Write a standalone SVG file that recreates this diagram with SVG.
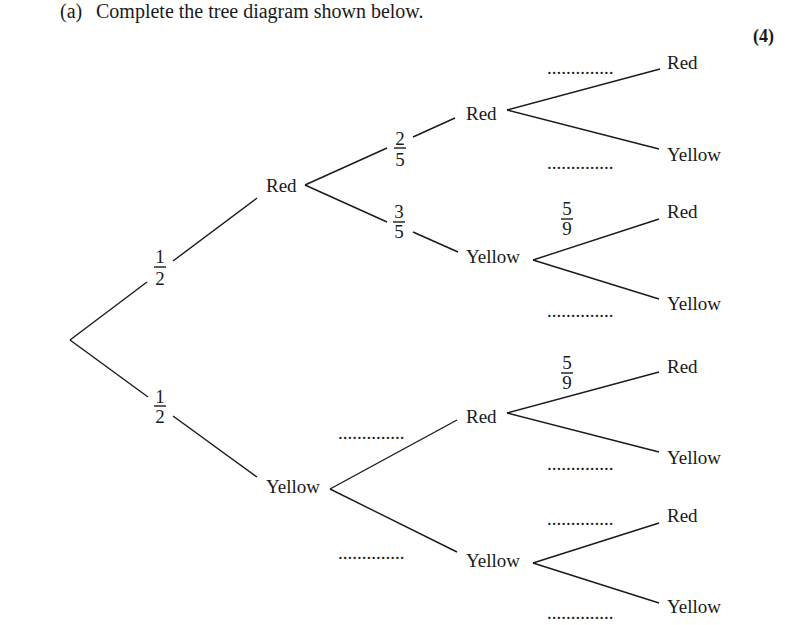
<svg xmlns="http://www.w3.org/2000/svg" width="800" height="625" viewBox="0 0 800 625">
<style>
text{font-family:"Liberation Serif","Times New Roman",serif;font-size:19px;fill:#1a1a1a}
.t{font-size:20px}
.b{font-weight:bold;font-size:18px}
.f{text-anchor:middle}
line{stroke:#1a1a1a;stroke-width:1.4;fill:none}
</style>
<rect width="800" height="625" fill="#fff"/>
<text class="t" x="60" y="18">(a)</text>
<text class="t" x="96" y="18">Complete the tree diagram shown below.</text>
<text class="b" x="753" y="42">(4)</text>
<g id="connectors">
<line x1="70" y1="340" x2="147" y2="282"/>
<line x1="173" y1="261" x2="257" y2="198"/>
<line x1="70" y1="340" x2="148" y2="397"/>
<line x1="173" y1="416" x2="257" y2="477"/>
<line x1="305" y1="185" x2="387" y2="148"/>
<line x1="413" y1="137" x2="455" y2="118"/>
<line x1="305" y1="185" x2="387" y2="222"/>
<line x1="413" y1="232" x2="458" y2="252"/>
<line x1="507" y1="110" x2="660" y2="69"/>
<line x1="507" y1="110" x2="659" y2="149"/>
<line x1="533" y1="260" x2="659" y2="219"/>
<line x1="533" y1="260" x2="659" y2="299"/>
<line x1="330" y1="489" x2="457" y2="420"/>
<line x1="330" y1="489" x2="457" y2="552"/>
<line x1="507" y1="413" x2="659" y2="372"/>
<line x1="507" y1="413" x2="659" y2="452"/>
<line x1="533" y1="563" x2="659" y2="523"/>
<line x1="533" y1="563" x2="659" y2="603"/>
</g>
<g id="labels">
<g id="p-root-red"><text class="f" x="160" y="263">1</text><line x1="154" y1="267" x2="166" y2="267"/><text class="f" x="160" y="285">2</text></g>
<g id="p-root-yellow"><text class="f" x="160" y="403">1</text><line x1="154" y1="406" x2="166" y2="406"/><text class="f" x="160" y="423">2</text></g>
<g id="p-red-red"><text class="f" x="400" y="145">2</text><line x1="394" y1="148" x2="406" y2="148"/><text class="f" x="400" y="166">5</text></g>
<g id="p-red-yellow"><text class="f" x="399" y="218">3</text><line x1="393" y1="222" x2="405" y2="222"/><text class="f" x="399" y="238">5</text></g>
<g id="p-ry-red"><text class="f" x="567" y="215">5</text><line x1="561" y1="219" x2="573" y2="219"/><text class="f" x="567" y="235">9</text></g>
<g id="p-yr-red"><text class="f" x="567" y="369">5</text><line x1="561" y1="373" x2="573" y2="373"/><text class="f" x="567" y="389">9</text></g>
<text x="547" y="74">..............</text>
<text x="547" y="169">..............</text>
<text x="547" y="317">..............</text>
<text x="547" y="470">..............</text>
<text x="547" y="525">..............</text>
<text x="547" y="619">..............</text>
<text x="338" y="439">..............</text>
<text x="338" y="559">..............</text>
</g>
<g id="n-red"><text x="266" y="192">Red</text></g>
<g id="n-yellow"><text x="266" y="493">Yellow</text></g>
<g id="n-red-red"><text x="466" y="120">Red</text></g>
<g id="n-red-yellow"><text x="466" y="263">Yellow</text></g>
<g id="n-yellow-red"><text x="466" y="423">Red</text></g>
<g id="n-yellow-yellow"><text x="466" y="567">Yellow</text></g>
<g id="n-rr-red"><text x="667" y="69">Red</text></g>
<g id="n-rr-yellow"><text x="667" y="161">Yellow</text></g>
<g id="n-ry-red"><text x="667" y="218">Red</text></g>
<g id="n-ry-yellow"><text x="667" y="310">Yellow</text></g>
<g id="n-yr-red"><text x="667" y="373">Red</text></g>
<g id="n-yr-yellow"><text x="667" y="464">Yellow</text></g>
<g id="n-yy-red"><text x="667" y="522">Red</text></g>
<g id="n-yy-yellow"><text x="667" y="613">Yellow</text></g>
</svg>
